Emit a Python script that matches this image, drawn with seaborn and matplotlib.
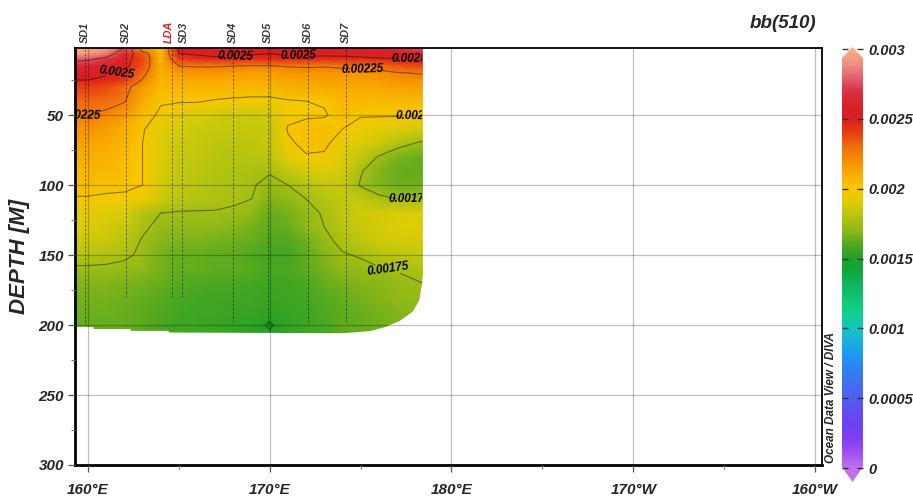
import numpy as np
import matplotlib
matplotlib.use("Agg")
import matplotlib.pyplot as plt
import seaborn as sns
from matplotlib.patches import Polygon, Rectangle
import matplotlib.transforms as mtransforms

# ---- section grid: longitude (deg E, >180 = west) and depth (m) ----
lon = [159.3, 160, 161, 162, 163, 164, 165, 166, 167, 168, 169, 170,
       171, 172, 173, 174, 175, 176, 177, 178.4]
depth = [0, 6, 10, 15, 20, 25, 30, 40, 50, 60, 70, 80, 90, 100, 110,
         120, 130, 140, 150, 160, 170, 180, 190, 200, 210]

# bb(510) in units of 1e-5, one row per depth level
bb_e5 = [
    [300, 300, 298, 278, 190, 205, 255, 258, 258, 258, 255, 255, 258, 258, 260, 260, 262, 265, 270, 280],
    [296, 294, 286, 264, 235, 205, 250, 252, 254, 254, 252, 250, 252, 254, 254, 255, 257, 258, 260, 265],
    [280, 278, 270, 258, 238, 206, 240, 245, 247, 246, 245, 245, 247, 246, 245, 245, 246, 248, 249, 250],
    [264, 263, 259, 255, 236, 208, 225, 226, 226, 225, 224, 224, 226, 227, 226, 228, 230, 232, 235, 238],
    [256, 256, 252, 248, 230, 208, 217, 218, 218, 216, 215, 215, 217, 218, 219, 219, 218, 220, 224, 226],
    [250, 250, 247, 242, 224, 207, 212, 212, 212, 211, 211, 211, 213, 214, 215, 215, 215, 216, 218, 220],
    [240, 240, 238, 230, 216, 206, 208, 208, 208, 207, 207, 207, 210, 211, 212, 212, 212, 213, 214, 215],
    [232, 232, 230, 226, 212, 201, 201, 201, 199, 198, 197, 197, 199, 200, 201, 207, 206, 206, 206, 206],
    [225, 225, 222, 216, 205, 198, 192, 190, 188, 186, 186, 188, 197, 198, 199, 204, 201, 201, 201, 201],
    [218, 218, 215, 210, 201, 193, 188, 186, 184, 183, 183, 185, 201, 205, 205, 200, 195, 193, 191, 188],
    [214, 214, 212, 208, 200, 191, 186, 184, 182, 181, 182, 184, 198, 203, 203, 193, 190, 186, 180, 173],
    [210, 210, 208, 205, 200, 190, 185, 183, 181, 180, 181, 182, 192, 199, 198, 190, 183, 174, 167, 163],
    [207, 207, 206, 204, 200, 189, 184, 182, 180, 179, 178, 176, 183, 188, 190, 188, 176, 168, 164, 162],
    [204, 204, 203, 202, 200, 188, 183, 181, 179, 178, 176, 172, 175, 180, 185, 185, 174, 168, 165, 165],
    [199, 199, 198, 198, 197, 187, 182, 180, 179, 177, 175, 168, 170, 175, 180, 183, 183, 178, 175, 175],
    [193, 193, 191, 189, 180, 175, 174, 174, 174, 173, 170, 164, 166, 172, 176, 183, 187, 188, 189, 190],
    [190, 190, 188, 185, 177, 172, 170, 170, 170, 169, 166, 162, 163, 170, 175, 181, 185, 188, 190, 190],
    [186, 186, 184, 181, 174, 169, 167, 167, 166, 165, 163, 160, 160, 165, 172, 178, 182, 186, 188, 188],
    [181, 181, 179, 177, 173, 166, 164, 163, 162, 162, 160, 158, 158, 162, 168, 174, 176, 180, 182, 184],
    [173, 173, 173, 172, 170, 166, 164, 163, 162, 162, 161, 159, 159, 162, 166, 170, 172, 174, 176, 179],
    [168, 168, 168, 167, 166, 163, 161, 160, 159, 159, 158, 157, 157, 159, 163, 166, 168, 169, 171, 175],
    [166, 166, 166, 165, 163, 161, 159, 158, 157, 156, 156, 155, 156, 158, 161, 164, 166, 168, 170, 172],
    [165, 165, 165, 164, 162, 160, 158, 157, 156, 155, 155, 154, 155, 157, 160, 162, 164, 166, 168, 170],
    [164, 164, 164, 163, 161, 159, 157, 156, 155, 154, 153, 149, 154, 156, 159, 162, 164, 165, 167, 169],
    [164, 164, 164, 163, 161, 159, 157, 156, 155, 154, 153, 152, 153, 156, 159, 162, 164, 165, 167, 169],
]

# lower limit of the gridded field (deepest samples)
edge_lon = [159.2, 160.25, 160.3, 162.3, 162.35, 164.4, 164.45, 174.0,
            175.5, 176.35, 177.15, 177.85, 178.2, 178.35, 178.45]
edge_depth = [201, 201, 202.5, 202.5, 203.8, 203.8, 205, 205.5,
              204, 201, 196.5, 190, 182, 170, 157]

# stations
station_names = ["SD1", "SD2", "LDA", "SD3", "SD4", "SD5", "SD6", "SD7"]
station_lon = [159.83, 162.07, 164.62, 165.15, 167.96, 169.92, 172.09, 174.2]
station_bottom = [200, 180, 180, 180, 198, 200, 198, 198]

# axis ticks
lon_ticks = [160, 170, 180, 190, 200]
lon_labels = ["160°E", "170°E", "180°E", "170°W", "160°W"]
lon_minor = [165, 175, 185, 195]
depth_ticks = [50, 100, 150, 200, 250, 300]
depth_minor = [25, 75, 125, 175, 225, 275]
cbar_ticks = [0, 0.0005, 0.001, 0.0015, 0.002, 0.0025, 0.003]
cbar_labels = ["0", "0.0005", "0.001", "0.0015", "0.002", "0.0025", "0.003"]

plain_levels = [0.0015, 0.00275]
label_levels = [0.00175, 0.002, 0.00225, 0.0025]
label_spots = [(161.6, 22.8), (168.1, 5.0), (171.55, 7.0), (177.7, 8.5),
               (175.1, 17.0), (159.55, 48.5), (177.7, 50.7),
               (177.7, 110.0), (176.5, 158.5)]

# ODV-style palette, one colour per 0.0001 step from 0 to 0.003
odv_colors = ["#c070f0", "#a050f0", "#8040f0", "#7040f0", "#6050f0", "#5060f0",
              "#4070f0", "#3080f0", "#2098f0", "#18b0e0", "#10c8c0", "#10d090",
              "#10c878", "#10b860", "#10a840", "#20a028", "#50a820", "#90b818",
              "#b4c410", "#dccc08", "#f8c800", "#f8b000", "#f89000", "#f07010",
              "#e84010", "#d82020", "#d82028", "#d83040", "#e06070", "#f09080",
              "#f8b080"]

sns.set_theme(style="white")
plt.rcParams["font.family"] = ["Liberation Sans", "DejaVu Sans"]
plt.rcParams["font.weight"] = "bold"
plt.rcParams["font.style"] = "italic"

cmap = sns.blend_palette(odv_colors, n_colors=256, as_cmap=True)
vmin, vmax = 0.0, 0.003

bb = np.array(bb_e5, dtype=float) * 1e-5
LON, DEP = np.meshgrid(lon, depth)

fig = plt.figure(figsize=(9.13, 4.98), dpi=100)
W, H = 913, 498
ax = fig.add_axes([75 / W, 33 / H, 747 / W, 417 / H])

ax.pcolormesh(LON, DEP, bb, cmap=cmap, vmin=vmin, vmax=vmax,
              shading="gouraud", zorder=1)

# blank out below the deepest samples
ax.fill_between(edge_lon, edge_depth, 320, color="white", lw=0, zorder=1.5)

line_kw = dict(colors="black", linewidths=0.8, alpha=0.42, zorder=2)
ax.contour(LON, DEP, bb, levels=plain_levels, **line_kw)
cs = ax.contour(LON, DEP, bb, levels=label_levels, **line_kw)
ax.clabel(cs, manual=label_spots, inline=True, inline_spacing=3,
          fontsize=8.5, fmt=lambda v: f"{v:g}")
field_box = Rectangle((159.285, 2.1), 178.4 - 159.285, 207.9,
                      transform=ax.transData)
for t in cs.labelTexts:
    t.set_color("black")
    t.set_alpha(1)
    t.set_fontweight("bold")
    t.set_fontstyle("italic")
    t.set_clip_path(field_box)

# station casts
ax.vlines(station_lon, 0, station_bottom, colors="black",
          linestyles=(0, (3, 2)), linewidth=0.6, alpha=0.55, zorder=2.2)
trans = mtransforms.blended_transform_factory(ax.transData, ax.transAxes)
nudge_pt = {"LDA": -2.0, "SD3": 1.8}
for name, x in zip(station_names, station_lon):
    tr = trans + mtransforms.ScaledTranslation(nudge_pt.get(name, 0) / 72, 0,
                                               fig.dpi_scale_trans)
    ax.text(x, 1.012, name, transform=tr, rotation=90, ha="center",
            va="bottom", fontsize=7.8,
            color="#e02020" if name == "LDA" else "#3a3a3a")

ax.set_xlim(159.285, 200.385)
ax.set_ylim(300, 2.1)
ax.set_xticks(lon_ticks)
ax.set_xticklabels(lon_labels)
ax.set_xticks(lon_minor, minor=True)
ax.set_yticks(depth_ticks)
ax.set_yticks(depth_minor, minor=True)
ax.tick_params(axis="both", which="major", direction="out", length=5,
               width=0.9, color="#555555", labelsize=11)
ax.tick_params(axis="both", which="minor", direction="out", length=3,
               width=0.8, color="#777777")
ax.tick_params(axis="x", which="major", pad=8)
ax.tick_params(axis="y", which="major", pad=3)
ax.tick_params(left=True, bottom=True, which="both")
ax.grid(True, which="major", color="black", alpha=0.25, linewidth=0.9)
ax.set_axisbelow(False)
for side in ["left", "bottom"]:
    ax.spines[side].set_linewidth(2.0)
    ax.spines[side].set_color("black")
for side in ["top", "right"]:
    ax.spines[side].set_linewidth(1.3)
    ax.spines[side].set_color("black")

fig.text(20 / W, 1 - 257 / H, "DEPTH [M]", rotation=90, ha="center",
         va="center", fontsize=16, fontweight="bold")
fig.text(783 / W, 1 - 23 / H, "bb(510)", ha="center", va="center",
         fontsize=13.5)
fig.text(831 / W, 1 - 463 / H, "Ocean Data View / DIVA", rotation=90,
         ha="center", va="bottom", fontsize=8.5)

# colour bar with pointed ends
top_px, bot_px = 47, 482
v_per_px = 0.003 / 419
c_hi = 0.003 + (49 - top_px) * v_per_px
c_lo = 0.0 - (bot_px - 468) * v_per_px
cax = fig.add_axes([842 / W, (H - bot_px) / H, 21 / W, (bot_px - top_px) / H])
grad = np.linspace(c_lo, c_hi, 600)[:, None]
im = cax.imshow(grad, extent=[0, 1, c_lo, c_hi], origin="lower",
                aspect="auto", cmap=cmap, vmin=vmin, vmax=vmax)
base_hi = 0.003 - 9 * v_per_px
base_lo = 0.0 + 1 * v_per_px
shape = Polygon([(0, base_lo), (0.5, c_lo), (1, base_lo), (1, base_hi),
                 (0.5, c_hi), (0, base_hi)], closed=True,
                transform=cax.transData)
im.set_clip_path(shape)
cax.set_xlim(0, 1)
cax.set_ylim(c_lo, c_hi)
cax.set_xticks([])
cax.set_yticks(cbar_ticks)
cax.set_yticklabels(cbar_labels)
cax.tick_params(axis="y", direction="in", left=True, right=True,
                labelleft=False, labelright=True, length=4, width=1,
                color="#333333", pad=4, labelsize=10.5)
for s in cax.spines.values():
    s.set_visible(False)
cax.set_facecolor("none")

fig.savefig("out.png", dpi=100)
